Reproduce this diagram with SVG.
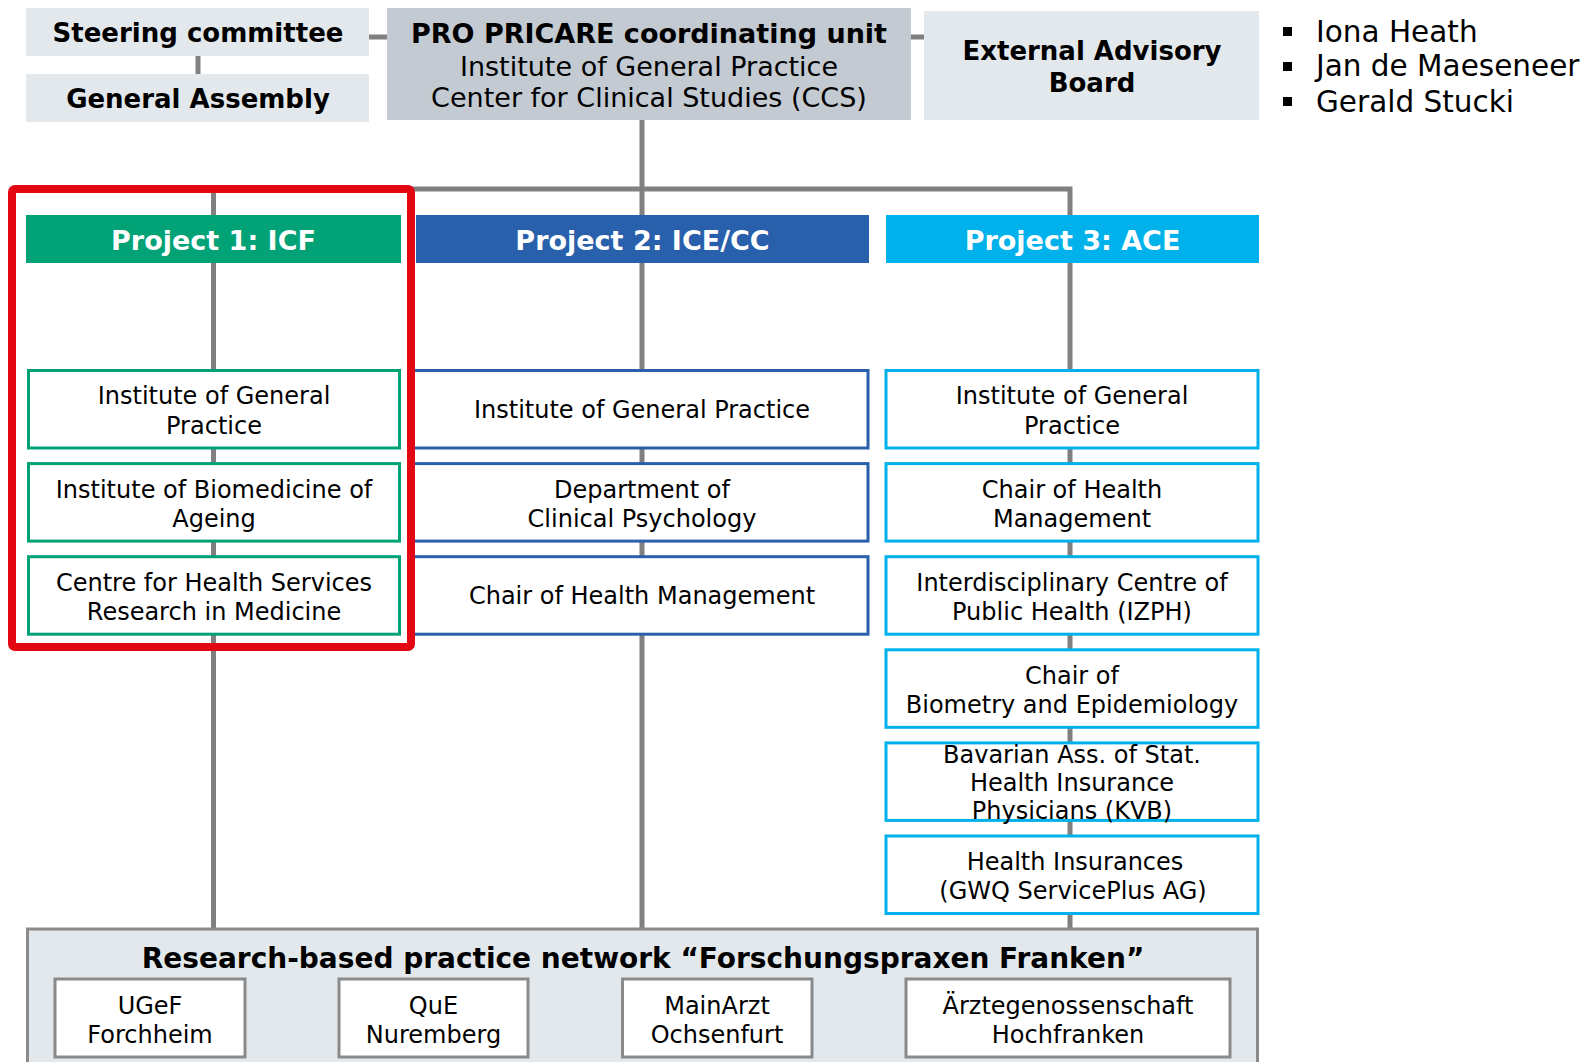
<svg xmlns="http://www.w3.org/2000/svg" width="1587" height="1062" viewBox="0 0 1587 1062">
<style>
text{font-family:"DejaVu Sans","Verdana",sans-serif;fill:#000;text-anchor:middle}
.b{font-weight:bold}
.top{font-size:26px;font-weight:bold}
.pro{font-size:27px}
.hd{font-size:27px;font-weight:bold;fill:#fff}
.n{font-size:24px}
.bul{font-size:29.5px;text-anchor:start}
.con{stroke:#808080;stroke-width:5;fill:none}
.lg{fill:#E3E8EC}
.g{fill:#fff;stroke:#00A276;stroke-width:3}
.bl{fill:#fff;stroke:#2860AC;stroke-width:3}
.cy{fill:#fff;stroke:#00B1EB;stroke-width:3}
.sb{fill:#fff;stroke:#8A8A8A;stroke-width:3}
</style>
<g id="connectors">
<line class="con" x1="369" y1="37" x2="387" y2="37"/>
<line class="con" x1="911" y1="37" x2="924" y2="37"/>
<line class="con" x1="198" y1="56" x2="198" y2="74"/>
<line class="con" x1="642" y1="120" x2="642" y2="929"/>
<polyline class="con" points="213.5,929 213.5,189 1070,189 1070,929"/>
</g>
<g id="steering"><rect class="lg" x="26" y="8" width="343" height="48"/><text class="top" x="198" y="41.8">Steering committee</text></g>
<g id="assembly"><rect class="lg" x="26" y="74" width="343" height="48"/><text class="top" x="198" y="108.4">General Assembly</text></g>
<g id="pro"><rect fill="#C3CAD1" x="387" y="8" width="524" height="112"/>
<text class="pro b" x="649" y="43">PRO PRICARE coordinating unit</text>
<text class="pro" x="649" y="75.5">Institute of General Practice</text>
<text class="pro" x="649" y="107">Center for Clinical Studies (CCS)</text></g>
<g id="advisory"><rect class="lg" x="924" y="11" width="335" height="109"/>
<text class="top" x="1092" y="60">External Advisory</text><text class="top" x="1092" y="91.5">Board</text></g>
<g id="members">
<rect x="1283" y="27" width="9" height="9"/><text class="bul" x="1316" y="41.8">Iona Heath</text>
<rect x="1283" y="62" width="9" height="9"/><text class="bul" x="1316" y="76.2">Jan de Maeseneer</text>
<rect x="1283" y="97" width="9" height="9"/><text class="bul" x="1316" y="111.6">Gerald Stucki</text>
</g>
<g id="project1"><rect fill="#00A276" x="26" y="215" width="375" height="48"/><text class="hd" x="213.5" y="249.7">Project 1: ICF</text></g>
<g id="project2"><rect fill="#2860AC" x="416" y="215" width="453" height="48"/><text class="hd" x="642.5" y="249.7">Project 2: ICE/CC</text></g>
<g id="project3"><rect fill="#00B1EB" x="886" y="215" width="373" height="48"/><text class="hd" x="1072.5" y="249.7">Project 3: ACE</text></g>
<g id="p1n1"><rect class="g" x="28.5" y="370.5" width="371" height="77.5"/><text class="n" x="214" y="404.4">Institute of General</text><text class="n" x="214" y="433.8">Practice</text></g>
<g id="p1n2"><rect class="g" x="28.5" y="463.6" width="371" height="77.5"/><text class="n" x="214" y="497.5">Institute of Biomedicine of</text><text class="n" x="214" y="526.9">Ageing</text></g>
<g id="p1n3"><rect class="g" x="28.5" y="556.7" width="371" height="77.5"/><text class="n" x="214" y="590.6">Centre for Health Services</text><text class="n" x="214" y="620">Research in Medicine</text></g>
<g id="p2n1"><rect class="bl" x="412" y="370.5" width="456" height="77.5"/><text class="n" x="642" y="418.1">Institute of General Practice</text></g>
<g id="p2n2"><rect class="bl" x="412" y="463.6" width="456" height="77.5"/><text class="n" x="642" y="497.5">Department of</text><text class="n" x="642" y="526.9">Clinical Psychology</text></g>
<g id="p2n3"><rect class="bl" x="412" y="556.7" width="456" height="77.5"/><text class="n" x="642" y="604.3">Chair of Health Management</text></g>
<g id="p3n1"><rect class="cy" x="886" y="370.5" width="372" height="77.5"/><text class="n" x="1072" y="404.4">Institute of General</text><text class="n" x="1072" y="433.8">Practice</text></g>
<g id="p3n2"><rect class="cy" x="886" y="463.6" width="372" height="77.5"/><text class="n" x="1072" y="497.5">Chair of Health</text><text class="n" x="1072" y="526.9">Management</text></g>
<g id="p3n3"><rect class="cy" x="886" y="556.7" width="372" height="77.5"/><text class="n" x="1072" y="590.6">Interdisciplinary Centre of</text><text class="n" x="1072" y="620">Public Health (IZPH)</text></g>
<g id="p3n4"><rect class="cy" x="886" y="649.8" width="372" height="77.5"/><text class="n" x="1072" y="683.7">Chair of</text><text class="n" x="1072" y="713.1">Biometry and Epidemiology</text></g>
<g id="p3n5"><rect class="cy" x="886" y="742.9" width="372" height="77.5"/><text class="n" x="1072" y="762.6">Bavarian Ass. of Stat.</text><text class="n" x="1072" y="791">Health Insurance</text><text class="n" x="1072" y="819.4">Physicians (KVB)</text></g>
<g id="p3n6"><rect class="cy" x="886" y="836" width="372" height="77.5"/><text class="n" x="1075" y="869.9">Health Insurances</text><text class="n" x="1073" y="899.3">(GWQ ServicePlus AG)</text></g>
<g id="icf-highlight"><rect x="12" y="189" width="399" height="458" rx="3" fill="none" stroke="#E30613" stroke-width="8"/></g>
<g id="network"><rect fill="#E3E8EC" stroke="#8A8A8A" stroke-width="3" x="27.5" y="929" width="1230" height="150"/>
<text class="b" style="font-size:28px" x="643" y="968">Research-based practice network “Forschungspraxen Franken”</text></g>
<g id="ugef"><rect class="sb" x="55" y="979" width="190" height="78"/><text class="n" x="150" y="1013.6">UGeF</text><text class="n" x="150" y="1042.6">Forchheim</text></g>
<g id="que"><rect class="sb" x="339" y="979" width="189" height="78"/><text class="n" x="433.5" y="1013.6">QuE</text><text class="n" x="433.5" y="1042.6">Nuremberg</text></g>
<g id="mainarzt"><rect class="sb" x="622.5" y="979" width="189.5" height="78"/><text class="n" x="717" y="1013.6">MainArzt</text><text class="n" x="717" y="1042.6">Ochsenfurt</text></g>
<g id="aerzte"><rect class="sb" x="906" y="979" width="324" height="78"/><text class="n" x="1068" y="1013.6">Ärztegenossenschaft</text><text class="n" x="1068" y="1042.6">Hochfranken</text></g>
</svg>
